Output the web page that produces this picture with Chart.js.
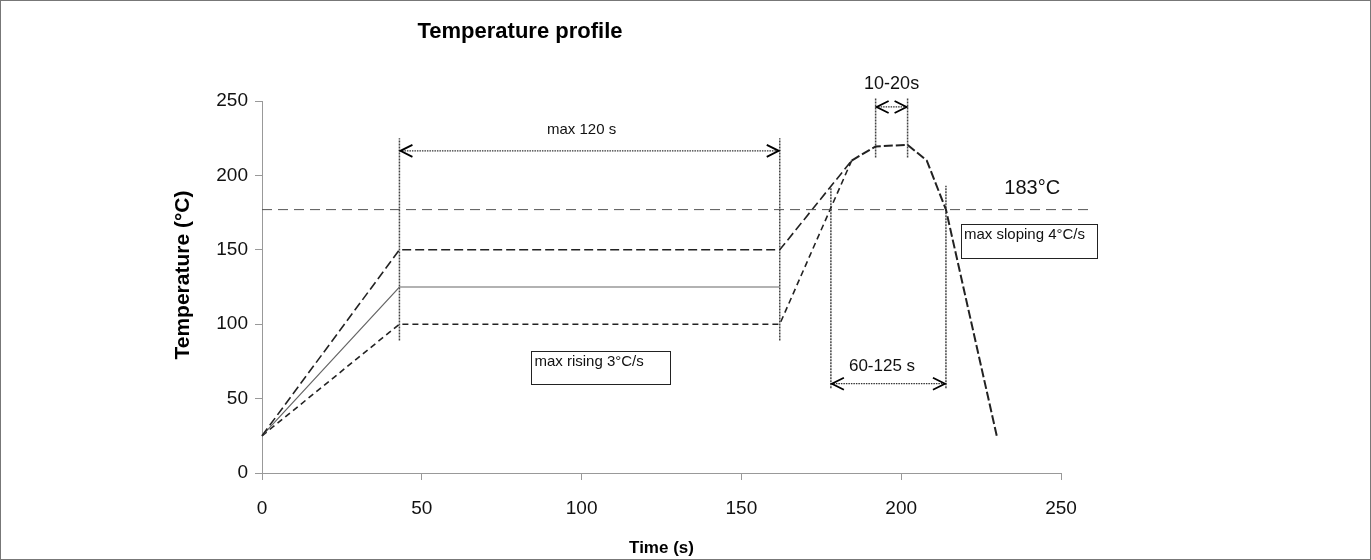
<!DOCTYPE html>
<html>
<head>
<meta charset="utf-8">
<script src="https://cdn.jsdelivr.net/npm/chart.js@4"></script>
<style>
  body { margin: 0; background: #fff; }
  #wrap { width: 1369px; height: 558px; border: 1px solid #777; }
</style>
</head>
<body>
<div id="wrap"><canvas id="profile" width="1369" height="558"></canvas></div>
<script>
// tick labels
const timeTicks = [0, 50, 100, 150, 200, 250];
const tempTicks = [0, 50, 100, 150, 200, 250];

// profile curves (time s, temperature C)
const upperTime = [0, 43, 162, 184.5];
const upperTemp = [25, 150, 150, 210];
const midTime = [0, 43, 162];
const midTemp = [25, 125, 125];
const lowerTime = [0, 43, 162, 184.5];
const lowerTemp = [25, 100, 100, 210];
const peakTime = [184.5, 192, 202, 208, 214, 230];
const peakTemp = [210, 219.5, 220.5, 210, 177, 24];

// liquidus line
const liquidusTime = [0, 259];
const liquidusTemp = [177, 177];

// vertical marker lines
const markerTime = [43, 162, 178, 214, 192, 202];
const markerLow = [89, 89, 57, 57, 212, 212];
const markerHigh = [225, 225, 192, 193, 252, 252];

// double arrows
const arrowFrom = [43, 178, 192];
const arrowTo = [162, 214, 202];
const arrowTemp = [216.5, 60, 246];

// labels
const labelText = ['max 120 s', '60-125 s', '10-20s', '183°C'];
const labelTime = [100, 194, 197, 241];
const labelTemp = [230.5, 72, 261.5, 191];
const labelSize = [15, 17, 18, 20];

// boxed notes
const noteText = ['max rising 3°C/s', 'max sloping 4°C/s'];
const noteLeft = [84.3, 218.7];
const noteRight = [127.7, 261.3];
const noteTop = [82.2, 167.6];
const noteBottom = [60.3, 144.8];

const FONT = '"Liberation Sans", Arial, Helvetica, sans-serif';

function pts(xs, ys) {
    return xs.map((x, i) => ({x: x, y: ys[i]}));
}

let datasets = [
    {data: pts(liquidusTime, liquidusTemp), borderColor: '#555', borderWidth: 1, borderDash: [10, 6]},
    {data: pts(upperTime, upperTemp), borderColor: '#222', borderWidth: 1.6, borderDash: [9, 4]},
    {data: pts(midTime, midTemp), borderColor: '#666', borderWidth: 1.2},
    {data: pts(lowerTime, lowerTemp), borderColor: '#222', borderWidth: 1.6, borderDash: [6, 4]},
    {data: pts(peakTime, peakTemp), borderColor: '#222', borderWidth: 2, borderDash: [9, 3]}
];
markerTime.forEach((t, i) => {
    datasets.push({
        data: pts([t, t], [markerLow[i], markerHigh[i]]),
        borderColor: '#444', borderWidth: 1.5, borderDash: [2, 1]
    });
});
datasets.forEach(d => {
    d.pointRadius = 0;
    d.fill = false;
    d.tension = 0;
    d.clip = false;
});

// arrows, labels, boxes and titles
const annotations = {
    id: 'annotations',
    afterDatasetsDraw(chart) {
        let ctx = chart.ctx;
        let xs = chart.scales.x;
        let ys = chart.scales.y;
        ctx.save();

        // double arrows
        arrowFrom.forEach((f, i) => {
            let x1 = xs.getPixelForValue(f);
            let x2 = xs.getPixelForValue(arrowTo[i]);
            let y = ys.getPixelForValue(arrowTemp[i]);
            ctx.strokeStyle = '#333';
            ctx.lineWidth = 1.3;
            ctx.setLineDash([1.5, 1]);
            ctx.beginPath();
            ctx.moveTo(x1, y);
            ctx.lineTo(x2, y);
            ctx.stroke();
            ctx.setLineDash([]);
            ctx.strokeStyle = '#000';
            ctx.lineWidth = 1.8;
            ctx.beginPath();
            ctx.moveTo(x1 + 13, y - 6);
            ctx.lineTo(x1 + 1, y);
            ctx.lineTo(x1 + 13, y + 6);
            ctx.moveTo(x2 - 13, y - 6);
            ctx.lineTo(x2 - 1, y);
            ctx.lineTo(x2 - 13, y + 6);
            ctx.stroke();
        });

        // labels
        ctx.fillStyle = '#111';
        ctx.textAlign = 'center';
        ctx.textBaseline = 'middle';
        labelText.forEach((t, i) => {
            ctx.font = labelSize[i] + 'px ' + FONT;
            ctx.fillText(t, xs.getPixelForValue(labelTime[i]), ys.getPixelForValue(labelTemp[i]));
        });

        // boxed notes
        noteText.forEach((t, i) => {
            let l = xs.getPixelForValue(noteLeft[i]);
            let r = xs.getPixelForValue(noteRight[i]);
            let top = ys.getPixelForValue(noteTop[i]);
            let b = ys.getPixelForValue(noteBottom[i]);
            ctx.fillStyle = '#fff';
            ctx.fillRect(l, top, r - l, b - top);
            ctx.strokeStyle = '#222';
            ctx.lineWidth = 1;
            ctx.strokeRect(Math.round(l) + 0.5, Math.round(top) + 0.5, Math.round(r - l), Math.round(b - top));
            ctx.fillStyle = '#111';
            ctx.font = '15px ' + FONT;
            ctx.textAlign = 'left';
            ctx.fillText(t, l + 3, top + 11);
        });

        // chart title
        ctx.font = 'bold 22px ' + FONT;
        ctx.textAlign = 'center';
        ctx.fillStyle = '#000';
        ctx.fillText('Temperature profile', 519, 31);

        // y axis title
        ctx.translate(182, 274);
        ctx.rotate(-Math.PI / 2);
        ctx.font = 'bold 21px ' + FONT;
        ctx.fillText('Temperature (°C)', 0, 0);
        ctx.restore();
    }
};

new Chart(document.getElementById('profile'), {
    type: 'line',
    data: {datasets: datasets},
    plugins: [annotations],
    options: {
        responsive: false,
        animation: false,
        layout: {padding: {left: 0, top: 100, right: 309, bottom: 0}},
        plugins: {legend: {display: false}, tooltip: {enabled: false}, title: {display: false}},
        scales: {
            x: {
                type: 'linear',
                min: 0,
                max: 250,
                afterBuildTicks: s => { s.ticks = timeTicks.map(v => ({value: v})); },
                afterFit: s => { s.height = 86; },
                ticks: {color: '#111', font: {family: FONT, size: 19}, padding: 17},
                grid: {drawOnChartArea: false, color: '#999', tickLength: 7},
                border: {color: '#999', width: 1},
                title: {display: true, text: 'Time (s)', color: '#000', font: {family: FONT, size: 17, weight: 'bold'}, padding: {top: 0, bottom: 0}}
            },
            y: {
                type: 'linear',
                min: 0,
                max: 250,
                afterBuildTicks: s => { s.ticks = tempTicks.map(v => ({value: v})); },
                afterFit: s => { s.width = 261; },
                ticks: {color: '#111', font: {family: FONT, size: 19}, padding: 7},
                grid: {drawOnChartArea: false, color: '#999', tickLength: 7},
                border: {color: '#999', width: 1},
                title: {display: false}
            }
        }
    }
});
</script>
</body>
</html>
